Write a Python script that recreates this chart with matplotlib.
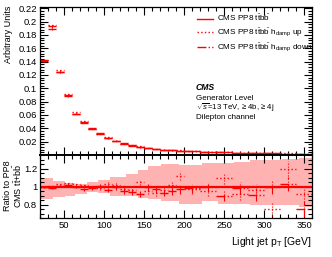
import numpy as np
import matplotlib
matplotlib.use("Agg")
import matplotlib.pyplot as plt
from matplotlib.lines import Line2D
from matplotlib.ticker import MultipleLocator

plt.rcParams['font.family'] = ['Liberation Sans', 'DejaVu Sans']
plt.rcParams['mathtext.fontset'] = 'custom'
plt.rcParams['mathtext.rm'] = 'Liberation Sans'
plt.rcParams['mathtext.it'] = 'Liberation Sans:italic'
plt.rcParams['mathtext.bf'] = 'Liberation Sans:bold'

# bin edges (GeV)
edges = np.array([20, 30, 40, 50, 60, 70, 80, 90, 100, 110, 120, 130, 140, 150,
                  160, 170, 180, 190, 200, 220, 240, 260, 280, 300, 320, 340, 360])

# nominal distribution
nominal = np.array([0.143, 0.193, 0.124, 0.088, 0.062, 0.050, 0.040, 0.032, 0.026,
                    0.021, 0.0175, 0.015, 0.0126, 0.0107, 0.0092, 0.0082, 0.0074,
                    0.0066, 0.0058, 0.0050, 0.0043, 0.0037, 0.0030, 0.0025, 0.0020,
                    0.0016])
nominal_err = np.array([0.0015, 0.002, 0.0015, 0.001, 0.001, 0.0008, 0.0007, 0.0006,
                        0.0005, 0.0005, 0.0004, 0.0004, 0.0004, 0.0003, 0.0003, 0.0003,
                        0.0003, 0.0003, 0.0002, 0.0002, 0.0002, 0.0002, 0.0002, 0.0002,
                        0.0002, 0.0002])

# hdamp variations as ratio to nominal
ratio_up = np.array([1.00, 1.01, 1.03, 1.04, 1.03, 1.02, 0.99, 0.98, 1.03, 1.02, 0.97,
                     0.96, 1.05, 0.95, 0.93, 0.96, 1.02, 1.12, 0.97, 0.95, 1.09, 0.92,
                     0.96, 0.75, 1.20, 0.92])
ratio_down = np.array([0.99, 0.98, 1.01, 1.02, 1.00, 0.97, 0.98, 1.01, 0.96, 0.99, 0.95,
                       0.94, 0.92, 0.99, 0.97, 0.93, 0.95, 0.97, 0.98, 1.00, 0.90, 0.98,
                       0.91, 0.99, 1.03, 0.75])
ratio_err = np.array([0.01, 0.01, 0.012, 0.014, 0.016, 0.018, 0.02, 0.022, 0.024, 0.026,
                      0.028, 0.03, 0.032, 0.035, 0.038, 0.04, 0.045, 0.05, 0.05, 0.055,
                      0.06, 0.065, 0.07, 0.075, 0.08, 0.09])

# uncertainty band in the ratio panel
band_edges = np.array([20, 36, 51, 64, 79, 92, 108, 127, 142, 155, 171, 194, 222, 242,
                       262, 282, 301, 322, 344, 360])
band_up = np.array([1.094, 1.06, 1.04, 1.03, 1.05, 1.075, 1.105, 1.14, 1.18, 1.23,
                    1.245, 1.24, 1.26, 1.26, 1.27, 1.29, 1.29, 1.31, 1.32])
band_down = np.array([0.86, 0.88, 0.90, 0.92, 0.94, 0.925, 0.90, 0.895, 0.87, 0.86,
                      0.835, 0.805, 0.835, 0.805, 0.81, 0.795, 0.80, 0.79, 0.77])

lo = edges[:-1]
hi = edges[1:]
centers = 0.5 * (lo + hi)
up = nominal * ratio_up
down = nominal * ratio_down

fig = plt.figure(figsize=(3.32, 2.57), dpi=100)
ax = fig.add_axes([40/332, 1-155/257, 272/332, 148/257])
axr = fig.add_axes([40/332, 1-218/257, 272/332, 63/257])

red = '#ff0000'

# top panel
ax.hlines(nominal, lo, hi, colors=red, linestyles='-', lw=1.0)
ax.vlines(centers, nominal-nominal_err, nominal+nominal_err, colors=red, lw=0.8)
ax.hlines(up, lo, hi, colors=red, linestyles=':', lw=1.0)
ax.vlines(centers, up-nominal_err, up+nominal_err, colors=red, linestyles=':', lw=0.8)
ax.hlines(down, lo, hi, colors=red, linestyles='-.', lw=1.0)
ax.vlines(centers, down-nominal_err, down+nominal_err, colors=red, linestyles='-.', lw=0.8)

ax.set_xlim(20, 360)
ax.set_ylim(0, 0.222)
ax.yaxis.set_minor_locator(MultipleLocator(0.004))
ax.set_yticks(np.arange(0.02, 0.221, 0.02))
ax.set_yticklabels(['0.02', '0.04', '0.06', '0.08', '0.1', '0.12', '0.14', '0.16',
                    '0.18', '0.2', '0.22'])
ax.tick_params(labelbottom=False)

# ratio panel
axr.stairs(band_up, band_edges, baseline=band_down, fill=True, color=red, alpha=0.3, lw=0)
axr.hlines(np.ones_like(nominal), lo, hi, colors=red, lw=1.6)
axr.hlines(ratio_up, lo, hi, colors=red, linestyles=':', lw=1.0)
axr.vlines(centers, ratio_up-ratio_err, ratio_up+ratio_err, colors=red, linestyles=':', lw=0.8)
axr.hlines(ratio_down, lo, hi, colors=red, linestyles='-.', lw=1.0)
axr.vlines(centers, ratio_down-ratio_err, ratio_down+ratio_err, colors=red,
           linestyles='-.', lw=0.8)
axr.set_xlim(20, 360)
axr.set_ylim(0.65, 1.35)
axr.set_yticks([0.8, 1.0, 1.2])
axr.set_yticklabels(['0.8', '1', '1.2'])
axr.yaxis.set_minor_locator(MultipleLocator(0.05))
axr.set_xlabel(r'Light jet p$_{\mathrm{T}}$ [GeV]', fontsize=7.5, loc='right', labelpad=4)

for a in (ax, axr):
    a.xaxis.set_major_locator(MultipleLocator(50))
    a.xaxis.set_minor_locator(MultipleLocator(10))
    a.tick_params(which='both', direction='in', top=True, right=True, labelsize=6.8,
                  width=0.8, pad=2)
    a.tick_params(which='major', length=6)
    a.tick_params(which='minor', length=3)
    for s in a.spines.values():
        s.set_linewidth(0.9)
ax.spines['bottom'].set_linewidth(1.4)
axr.spines['top'].set_linewidth(1.4)

fig.text(9/332, 1-6/257, 'Arbitrary Units', fontsize=6.5, rotation=90, ha='center', va='top')
fig.text(8/332, 1-186/257, 'Ratio to PP8', fontsize=6.5, rotation=90, ha='center', va='center')
fig.text(17.5/332, 1-186/257, r'CMS $\mathrm{t\bar{t}}$+$\mathrm{b\bar{b}}$', fontsize=6.5,
         rotation=90, ha='center', va='center')

# legend
handles = [Line2D([], [], color=red, ls='-', lw=1.0),
           Line2D([], [], color=red, ls=':', lw=1.0),
           Line2D([], [], color=red, ls='-.', lw=1.0)]
labels = [r'CMS PP8 $\mathrm{t\bar{t}b\bar{b}}$',
          r'CMS PP8 $\mathrm{t\bar{t}b\bar{b}}$ $\mathrm{h_{damp}}$ up',
          r'CMS PP8 $\mathrm{t\bar{t}b\bar{b}}$ $\mathrm{h_{damp}}$ down']
ax.legend(handles, labels, loc='upper left', bbox_to_anchor=(197/332, 1-13/257),
          bbox_transform=fig.transFigure, frameon=False, fontsize=5.9, handlelength=2.0,
          handletextpad=0.4, labelspacing=0.35, borderpad=0, borderaxespad=0)

fig.text(196/332, 1-88/257, 'CMS', fontsize=6.2, fontweight='bold', fontstyle='italic',
         va='center')
fig.text(196/332, 1-98/257, 'Generator Level', fontsize=5.8, va='center')
fig.text(196/332, 1-107.5/257, r'$\sqrt{s}$=13 TeV, ≥ 4b, ≥ 4j', fontsize=5.6, va='center')
fig.text(196/332, 1-117.5/257, 'Dilepton channel', fontsize=5.8, va='center')

fig.savefig('out.png', dpi=100)
